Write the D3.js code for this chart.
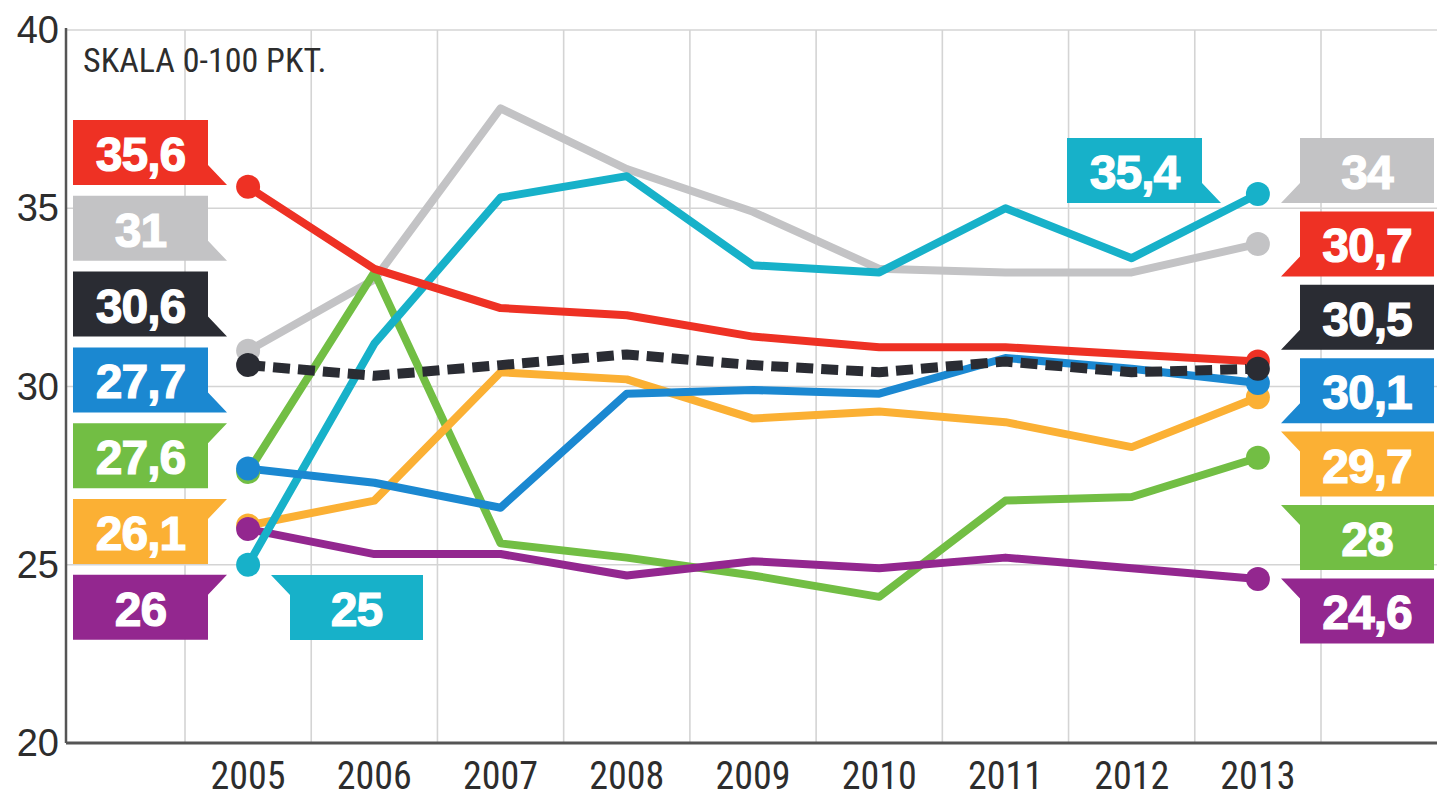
<!DOCTYPE html>
<html>
<head>
<meta charset="utf-8">
<script src="https://cdn.jsdelivr.net/npm/d3@7.9.0/dist/d3.min.js"></script>
<style>
  body { margin: 0; background: #fff; }
  svg { display: block; }
</style>
</head>
<body>
<svg id="chart" width="1437" height="800"></svg>
<script>
// ---- data ----
const years = [2005, 2006, 2007, 2008, 2009, 2010, 2011, 2012, 2013];
const yTicks = [20, 25, 30, 35, 40];

const redValues    = [35.6, 33.3, 32.2, 32.0, 31.4, 31.1, 31.1, 30.9, 30.7];
const grayValues   = [31.0, 33.0, 37.8, 36.1, 34.9, 33.3, 33.2, 33.2, 34.0];
const cyanValues   = [25.0, 31.2, 35.3, 35.9, 33.4, 33.2, 35.0, 33.6, 35.4];
const blackValues  = [30.6, 30.3, 30.6, 30.9, 30.6, 30.4, 30.7, 30.4, 30.5];
const blueValues   = [27.7, 27.3, 26.6, 29.8, 29.9, 29.8, 30.8, 30.5, 30.1];
const greenValues  = [27.6, 33.2, 25.6, 25.2, 24.7, 24.1, 26.8, 26.9, 28.0];
const orangeValues = [26.1, 26.8, 30.4, 30.2, 29.1, 29.3, 29.0, 28.3, 29.7];
const purpleValues = [26.0, 25.3, 25.3, 24.7, 25.1, 24.9, 25.2, 24.9, 24.6];

const noteText = 'SKALA 0-100 PKT.';

// ---- series setup (drawing order) ----
const series = [
  { key: 'gray',   values: grayValues,   color: '#c3c3c5' },
  { key: 'green',  values: greenValues,  color: '#72be44' },
  { key: 'orange', values: orangeValues, color: '#fbb034' },
  { key: 'purple', values: purpleValues, color: '#93278f' },
  { key: 'cyan',   values: cyanValues,   color: '#17b1c9' },
  { key: 'red',    values: redValues,    color: '#ee3124' },
  { key: 'blue',   values: blueValues,   color: '#1b88d1' },
  { key: 'black',  values: blackValues,  color: '#2a2c33', dashed: true },
];
const byKey = Object.fromEntries(series.map(s => [s.key, s]));

// callout stacks: left = first values, right = last values
const leftOrder  = ['red', 'gray', 'black', 'blue', 'green', 'orange', 'purple'];
const leftTails  = ['br', 'br', 'br', 'br', 'tr', 'tr', 'tr'];
const rightOrder = ['gray', 'red', 'black', 'blue', 'orange', 'green', 'purple'];
const rightTails = ['bl', 'bl', 'bl', 'bl', 'tl', 'tl', 'tl'];

// ---- layout ----
const axisX = 66, plotTop = 30, plotBottom = 743, plotRight = 1437;

const svg = d3.select('#chart');

const x = d3.scaleBand().domain(years).range([185, 1321]).padding(0);
const cx = d => x(d) + x.bandwidth() / 2;
const y = d3.scaleLinear().domain([20, 40]).range([plotBottom, plotTop]);

// ---- grid ----
const grid = svg.append('g').attr('stroke', '#d4d4d4').attr('stroke-width', 1.6);
yTicks.filter(t => t > 20).forEach(t => {
  grid.append('line').attr('x1', axisX).attr('x2', plotRight)
    .attr('y1', y(t)).attr('y2', y(t));
});
const edges = years.map(yr => x(yr)).concat([x(years[years.length - 1]) + x.bandwidth()]);
edges.forEach(gx => {
  grid.append('line').attr('x1', gx).attr('x2', gx).attr('y1', plotTop).attr('y2', plotBottom);
});

// axes lines
svg.append('line').attr('x1', axisX).attr('x2', axisX).attr('y1', plotTop - 2).attr('y2', plotBottom)
  .attr('stroke', '#555').attr('stroke-width', 2.5);
svg.append('line').attr('x1', axisX).attr('x2', plotRight).attr('y1', plotBottom).attr('y2', plotBottom)
  .attr('stroke', '#555').attr('stroke-width', 3);

// y tick labels
svg.append('g').selectAll('text').data(yTicks).join('text')
  .attr('x', 59).attr('y', d => y(d))
  .attr('text-anchor', 'end').attr('dominant-baseline', 'central')
  .attr('font-family', 'Liberation Sans, Arial, sans-serif')
  .attr('font-size', 38).attr('fill', '#2d2d2d')
  .text(d => d);

// x tick labels
svg.append('g').selectAll('text').data(years).join('text')
  .attr('x', d => cx(d)).attr('y', 789)
  .attr('text-anchor', 'middle')
  .attr('font-family', 'Liberation Sans Narrow, Roboto Condensed, Arial Narrow, sans-serif')
  .attr('font-size', 38).attr('fill', '#2d2d2d')
  .text(d => d);

// note
svg.append('text').attr('x', 83).attr('y', 72)
  .attr('font-family', 'Liberation Sans Narrow, Roboto Condensed, Arial Narrow, sans-serif')
  .attr('font-size', 34).attr('fill', '#2d2d2d')
  .text(noteText);

// ---- lines ----
const line = d3.line().x((d, i) => cx(years[i])).y(d => y(d));
const linesG = svg.append('g');
series.forEach(s => {
  linesG.append('path')
    .attr('d', line(s.values))
    .attr('fill', 'none')
    .attr('stroke', s.color)
    .attr('stroke-width', s.dashed ? 10 : 8)
    .attr('stroke-linejoin', 'round')
    .attr('stroke-dasharray', s.dashed ? '17 8' : null);
});

// end dots
const dotsG = svg.append('g');
series.forEach(s => {
  [0, years.length - 1].forEach(i => {
    dotsG.append('circle')
      .attr('cx', cx(years[i])).attr('cy', y(s.values[i]))
      .attr('r', 12).attr('fill', s.color);
  });
});

// ---- callouts ----
const fmt = v => String(v).replace('.', ',');
const TAIL_W = 19, TAIL_H = 20;

function calloutPath(x0, y0, w, h, tail) {
  const x1 = x0 + w, y1 = y0 + h;
  if (tail === 'br') return `M${x0},${y0}H${x1}V${y1 - TAIL_H}L${x1 + TAIL_W},${y1}H${x0}Z`;
  if (tail === 'tr') return `M${x0},${y0}H${x1 + TAIL_W}L${x1},${y0 + TAIL_H}V${y1}H${x0}Z`;
  if (tail === 'bl') return `M${x0},${y0}H${x1}V${y1}H${x0 - TAIL_W}L${x0},${y1 - TAIL_H}Z`;
  return `M${x0 - TAIL_W},${y0}H${x1}V${y1}H${x0}V${y0 + TAIL_H}Z`; // tl
}

const callG = svg.append('g');
function callout(x0, y0, w, h, tail, color, label) {
  callG.append('path').attr('d', calloutPath(x0, y0, w, h, tail)).attr('fill', color);
  callG.append('text')
    .attr('x', x0 + w / 2).attr('y', y0 + h / 2 + 2)
    .attr('text-anchor', 'middle').attr('dominant-baseline', 'central')
    .attr('font-family', 'Liberation Sans, Arial, sans-serif')
    .attr('font-weight', 'bold').attr('font-size', 48)
    .attr('letter-spacing', -1)
    .attr('fill', '#fff')
    .attr('stroke', '#fff').attr('stroke-width', 1.2)
    .text(label);
}

const boxW = 135, boxH = 65;
leftOrder.forEach((k, i) => {
  const s = byKey[k];
  callout(73, 120 + i * 75.8, boxW, boxH, leftTails[i], s.color, fmt(s.values[0]));
});
rightOrder.forEach((k, i) => {
  const s = byKey[k];
  callout(1300, 138 + i * 73.4, 134, boxH, rightTails[i], s.color, fmt(s.values[years.length - 1]));
});
// cyan callouts placed near their dots
callout(290, 575, 133, boxH, 'tl', byKey.cyan.color, fmt(cyanValues[0]));
callout(1067, 138, 135, boxH, 'br', byKey.cyan.color, fmt(cyanValues[years.length - 1]));
</script>
</body>
</html>
